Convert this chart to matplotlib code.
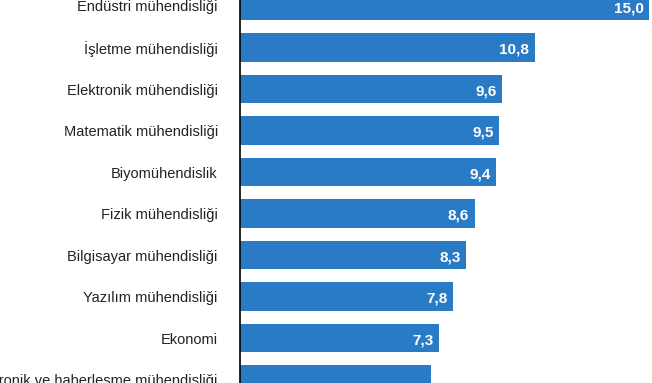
import matplotlib.pyplot as plt
from matplotlib import font_manager

# kategoriler (ilk ve son etiket görüntüde kesik)
bolumler = [
    "Endüstri mühendisliği",
    "İşletme mühendisliği",
    "Elektronik mühendisliği",
    "Matematik mühendisliği",
    "Biyomühendislik",
    "Fizik mühendisliği",
    "Bilgisayar mühendisliği",
    "Yazılım mühendisliği",
    "Ekonomi",
    "Elektronik ve haberleşme mühendisliği",
]
oranlar = [15.0, 10.8, 9.6, 9.5, 9.4, 8.6, 8.3, 7.8, 7.3, 7.0]
# son çubuğun değeri görüntüde okunmuyor
etiketler = ["15,0", "10,8", "9,6", "9,5", "9,4", "8,6", "8,3", "7,8", "7,3", ""]

names = {f.name for f in font_manager.fontManager.ttflist}
narrow = "Liberation Sans Narrow" if "Liberation Sans Narrow" in names else "Liberation Sans"
plt.rcParams["font.family"] = [narrow, "DejaVu Sans"]

fig = plt.figure(figsize=(6.52, 3.83), dpi=100)
ax = fig.add_axes([240 / 652, 0, 412 / 652, 1])

y = list(range(len(bolumler)))
ax.barh(y, oranlar, height=0.68, color="#2a7bc6")

for yi, v, t in zip(y, oranlar, etiketler):
    if not t:
        continue
    ax.text(v - 0.2, yi + 0.06, t, color="white", fontsize=11,
            fontweight="bold", ha="right", va="center")

ax.set_yticks(y)
ax.set_yticklabels(bolumler, fontsize=10.5, color="#222222")
ax.tick_params(axis="y", length=0, pad=16)
ax.set_xticks([])

ax.set_xlim(0, 15.1)
px = 41.5  # piksel / kategori
top = -6 / px
ax.set_ylim(top + 383 / px, top)

for s in ["top", "right", "bottom"]:
    ax.spines[s].set_visible(False)
ax.spines["left"].set_color("black")
ax.spines["left"].set_linewidth(1.2)

fig.savefig("out.png", dpi=100)
